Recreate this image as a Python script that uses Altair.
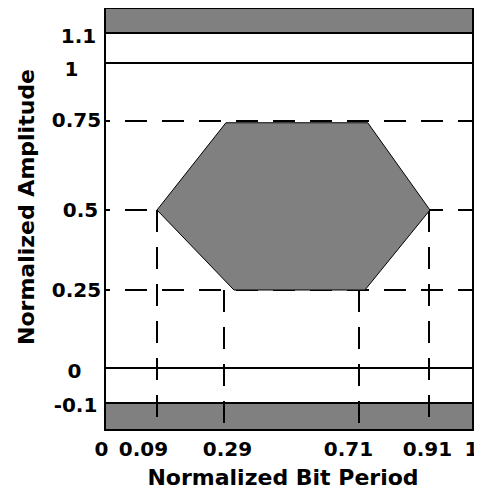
import altair as alt
import pandas as pd

# ---- data ----
x_ticks = [0, 0.09, 0.29, 0.71, 0.91, 1]
y_ticks = [-0.1, 0, 0.25, 0.5, 0.75, 1, 1.1]

# non-linear (piecewise) axis layout of the diagram
x_break = [0, 0.09, 0.29, 0.71, 0.91, 1]
x_px = [0, 52, 119, 254, 324, 368]
y_break = [-0.2, -0.1, 0, 0.25, 0.5, 0.75, 1, 1.1, 1.2]
y_px = [422, 395, 360, 282, 202, 113, 55, 25, 0]

# eye mask hexagon vertices
hex_x = [0.09, 0.296, 0.735, 0.912, 0.727, 0.321, 0.09]
hex_y = [0.5, 0.745, 0.745, 0.5, 0.25, 0.25, 0.5]

# forbidden bands above 1.1 and below -0.1
band_y = [1.1, -0.2]
band_y2 = [1.2, -0.1]

solid_y = [0, 1]
dash_h = [0.25, 0.5, 0.75]
dash_vx = [0.09, 0.29, 0.71, 0.91]
dash_vy = [0.5, 0.25, 0.25, 0.5]
dash_vy2 = [-0.2, -0.2, -0.2, -0.2]

FONT = "DejaVu Sans"
GRAY = "#808080"
LABEL_SIZE = 20
TITLE_SIZE = 22

xscale = alt.Scale(domain=x_break, range=x_px, nice=False, zero=False)
yscale = alt.Scale(domain=y_break, range=y_px, nice=False, zero=False)

x_off = {"condition": [
    {"test": "datum.value == 0", "value": -4},
    {"test": "datum.value == 0.09", "value": -14},
    {"test": "datum.value == 0.29", "value": 3},
    {"test": "datum.value == 0.71", "value": -11},
    {"test": "datum.value == 0.91", "value": -2},
    {"test": "datum.value == 1", "value": -2},
], "value": 0}

y_off = {"condition": [
    {"test": "datum.value == 1.1", "value": 3},
    {"test": "datum.value == 1", "value": 6},
    {"test": "datum.value == 0.75", "value": -1},
    {"test": "datum.value == 0", "value": 3},
    {"test": "datum.value == -0.1", "value": 2},
], "value": 0}

y_pad = {"condition": [
    {"test": "datum.value == 1.1", "value": 27},
    {"test": "datum.value == 1", "value": 34},
    {"test": "datum.value == 0.5", "value": 25},
    {"test": "datum.value == 0", "value": 31},
    {"test": "datum.value == -0.1", "value": 30},
], "value": 29}

xaxis = alt.Axis(values=x_ticks, title="Normalized Bit Period",
                 labelExpr="'' + datum.value", grid=False, ticks=False, tickSize=0,
                 domain=False, labelFont=FONT, labelFontSize=LABEL_SIZE, labelFontWeight="bold",
                 labelColor="black", labelPadding=25, labelBaseline="alphabetic",
                 labelOverlap=False, labelFlush=False, labelBound=False,
                 labelOffset=x_off,
                 titleFont=FONT, titleFontSize=TITLE_SIZE, titleFontWeight="bold",
                 titleColor="black",
                 titleX=177.5, titleY=54, titleBaseline="alphabetic", titleAlign="center")

yaxis = alt.Axis(values=y_ticks, title="Normalized Amplitude",
                 labelExpr="'' + datum.value", grid=False, ticks=False, tickSize=0,
                 domain=False, labelFont=FONT, labelFontSize=LABEL_SIZE, labelFontWeight="bold",
                 labelColor="black", labelAlign="center", labelBaseline="middle",
                 labelPadding=y_pad, labelOffset=y_off,
                 labelOverlap=False, labelFlush=False, labelBound=False,
                 titleFont=FONT, titleFontSize=TITLE_SIZE, titleFontWeight="bold",
                 titleColor="black",
                 titleX=-72, titleY=198.5, titleAngle=270, titleBaseline="alphabetic",
                 titleAlign="center")

bands = pd.DataFrame({"x": [x_ticks[0]] * 2, "x2": [x_ticks[-1]] * 2,
                      "y": band_y, "y2": band_y2})
solid = pd.DataFrame({"y": solid_y})
dh = pd.DataFrame({"y": dash_h})
dv = pd.DataFrame({"x": dash_vx, "y": dash_vy, "y2": dash_vy2})
hexdf = pd.DataFrame({"x": hex_x, "y": hex_y, "i": list(range(len(hex_x)))})

band_layer = alt.Chart(bands).mark_rect(fill=GRAY, stroke="black", strokeWidth=2).encode(
    x=alt.X("x:Q", scale=xscale, axis=xaxis), x2="x2:Q",
    y=alt.Y("y:Q", scale=yscale, axis=yaxis), y2="y2:Q")

solid_layer = alt.Chart(solid).mark_rule(color="black", strokeWidth=2).encode(
    y=alt.Y("y:Q", scale=yscale, axis=yaxis))

dh_layer = alt.Chart(dh).mark_rule(color="black", strokeWidth=2,
                                   strokeDash=[22, 15], strokeDashOffset=7).encode(
    y=alt.Y("y:Q", scale=yscale, axis=yaxis))

dv_layer = alt.Chart(dv).mark_rule(color="black", strokeWidth=2,
                                   strokeDash=[22, 15]).encode(
    x=alt.X("x:Q", scale=xscale, axis=xaxis),
    y=alt.Y("y:Q", scale=yscale, axis=yaxis), y2="y2:Q")

hex_layer = alt.Chart(hexdf).mark_line(fill=GRAY, stroke="black", strokeWidth=1).encode(
    x=alt.X("x:Q", scale=xscale, axis=xaxis),
    y=alt.Y("y:Q", scale=yscale, axis=yaxis),
    order="i:Q")

chart = alt.layer(band_layer, solid_layer, dh_layer, dv_layer, hex_layer).properties(
    width=368, height=422,
    padding={"left": 97, "top": 0, "right": 1, "bottom": 55},
    autosize=alt.AutoSizeParams(type="none"),
    background="white",
).configure_view(stroke="black", strokeWidth=2)

chart.save("out.html", embed_options={"renderer": "svg", "actions": False})
